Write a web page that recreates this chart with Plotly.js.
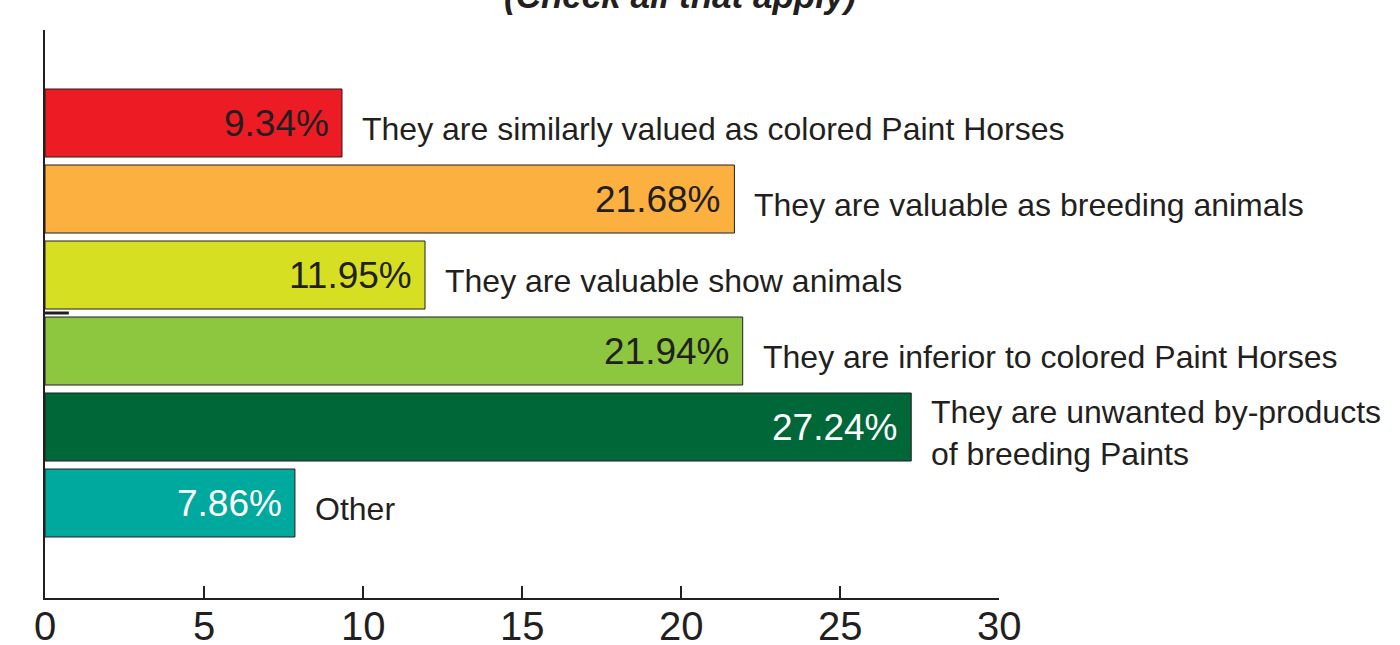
<!DOCTYPE html>
<html>
<head>
<meta charset="utf-8">
<script src="https://cdn.plot.ly/plotly-3.0.1.min.js"></script>
<style>html,body{margin:0;padding:0;background:#fff;}#chart{width:1400px;height:645px;}</style>
</head>
<body>
<div id="chart"></div>
<script>
const categories = [
  "They are similarly valued as colored Paint Horses",
  "They are valuable as breeding animals",
  "They are valuable show animals",
  "They are inferior to colored Paint Horses",
  "They are unwanted by-products<br>of breeding Paints",
  "Other"
];
const values = [9.34, 21.68, 11.95, 21.94, 27.24, 7.86];
const valueLabels = ["9.34%", "21.68%", "11.95%", "21.94%", "27.24%", "7.86%"];
const barColors = ["#ED1C24", "#FBB040", "#D7DF23", "#8DC63F", "#006838", "#00A99D"];
const valueTextColors = ["#231F20", "#231F20", "#231F20", "#231F20", "#FFFFFF", "#FFFFFF"];
const tickVals = [0, 5, 10, 15, 20, 25, 30];

const ink = "#231F20";
const font = "Liberation Sans, Arial, Helvetica, sans-serif";
const pos = categories.map((c, i) => i);

const annotations = [];
values.forEach((v, i) => {
  annotations.push({
    x: v, y: i, xref: "x", yref: "y", text: valueLabels[i],
    xanchor: "right", yanchor: "middle", xshift: -11, showarrow: false,
    font: {family: font, size: 37, color: valueTextColors[i]}
  });
  annotations.push({
    x: v, y: i, xref: "x", yref: "y", text: categories[i],
    xanchor: "left", yanchor: "middle", align: "left", xshift: 18, yshift: -6, showarrow: false,
    font: {family: font, size: 32, color: ink}
  });
});
tickVals.forEach(t => {
  annotations.push({
    x: t, y: -0.016, xref: "x", yref: "paper", text: String(t),
    xanchor: "center", yanchor: "top", valign: "middle", height: 34, showarrow: false,
    font: {family: font, size: 40, color: ink}
  });
});
annotations.push({
  x: 0.6656, y: 1.0229, xref: "paper", yref: "paper", text: "<b><i>(Check all that apply)</i></b>",
  xanchor: "center", yanchor: "bottom", showarrow: false,
  font: {family: font, size: 35, color: ink}
});

const trace = {
  type: "bar", orientation: "h",
  x: values, y: pos,
  width: 0.895,
  marker: {color: barColors, line: {color: ink, width: 1}},
  hoverinfo: "none"
};

const layout = {
  width: 1400, height: 645,
  margin: {l: 45, r: 401, t: 30, b: 47, pad: 0},
  paper_bgcolor: "#fff", plot_bgcolor: "#fff",
  showlegend: false,
  xaxis: {
    range: [0, 30], tickvals: tickVals, showticklabels: false,
    ticks: "inside", ticklen: 12, tickwidth: 2, tickcolor: ink,
    showline: true, linecolor: ink, linewidth: 2, showgrid: false, zeroline: false,
    fixedrange: true
  },
  yaxis: {
    range: [6.25, -1.224], showticklabels: false, ticks: "",
    showline: true, linecolor: ink, linewidth: 2, showgrid: false, zeroline: false,
    fixedrange: true
  },
  shapes: [{
    type: "line", xref: "x", yref: "y", x0: 0, x1: 0.75, y0: 2.5, y1: 2.5,
    line: {color: ink, width: 3}
  }],
  annotations: annotations
};

Plotly.newPlot("chart", [trace], layout, {displayModeBar: false, staticPlot: true});
</script>
</body>
</html>
